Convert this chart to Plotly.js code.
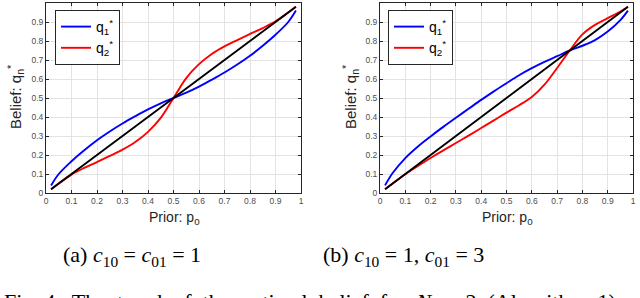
<!DOCTYPE html>
<html><head><meta charset="utf-8">
<script src="https://cdn.plot.ly/plotly-3.0.1.min.js"></script>
<style>body{margin:0;background:#fff}#c{width:640px;height:298px}</style>
</head><body><div id="c"></div>
<script>
// Shared prior grid
const prior = [0.02,0.05,0.1,0.15,0.2,0.25,0.3,0.35,0.4,0.45,0.5,0.55,0.6,0.65,0.7,0.75,0.8,0.85,0.9,0.95,0.98];
// (a) c10 = c01 = 1
const aQ1 = [0.04,0.1,0.167,0.225,0.278,0.324,0.366,0.404,0.44,0.472,0.5,0.528,0.56,0.596,0.634,0.676,0.722,0.775,0.833,0.9,0.96];
const aQ2 = [0.02,0.05,0.097,0.132,0.163,0.195,0.228,0.268,0.322,0.395,0.5,0.605,0.678,0.732,0.772,0.805,0.837,0.868,0.903,0.95,0.98];
// (b) c10 = 1, c01 = 3
const bQ1 = [0.04,0.105,0.184,0.245,0.298,0.348,0.396,0.443,0.49,0.535,0.578,0.62,0.657,0.69,0.72,0.75,0.775,0.805,0.85,0.91,0.96];
const bQ2 = [0.02,0.05,0.099,0.142,0.184,0.224,0.263,0.302,0.342,0.382,0.423,0.462,0.505,0.57,0.658,0.75,0.835,0.885,0.92,0.955,0.98];
const diag = prior.slice();
const ticks = [0,0.1,0.2,0.3,0.4,0.5,0.6,0.7,0.8,0.9,1];
const tickText = ['0','0.1','0.2','0.3','0.4','0.5','0.6','0.7','0.8','0.9','1'];

const ln = (x,y,c,name,xa,ya,lg,show)=>({x:x,y:y,type:'scatter',mode:'lines',line:{color:c,width:1.9,shape:'spline',smoothing:1},
  name:name,xaxis:xa,yaxis:ya,legend:lg,showlegend:show,hoverinfo:'skip'});
const n1='q<sub>1</sub><sup>*</sup>', n2='q<sub>2</sub><sup>*</sup>';
const traces = [
  ln(prior,aQ1,'#0000ff',n1,'x','y','legend',true),
  ln(prior,aQ2,'#ff0000',n2,'x','y','legend',true),
  ln(prior,diag,'#000000','diag','x','y','legend',false),
  ln(prior,bQ1,'#0000ff',n1,'x2','y2','legend2',true),
  ln(prior,bQ2,'#ff0000',n2,'x2','y2','legend2',true),
  ln(prior,diag,'#000000','diag','x2','y2','legend2',false)
];
const ax = (dom, anchor)=>({domain:dom, anchor:anchor, range:[0,1], tickvals:ticks, ticktext:tickText,
  ticks:'inside', ticklen:3, tickcolor:'#262626', showline:true, linecolor:'#262626', linewidth:1, mirror:'ticks',
  showgrid:true, gridcolor:'#e3e3e3', gridwidth:1, zeroline:false, fixedrange:true,
  tickfont:{family:'Liberation Sans, Arial', size:8.5, color:'#4d4d4d'}});
const yd=[1-193/298, 1-3/298];
const legendBase = {bgcolor:'#ffffff', bordercolor:'#262626', borderwidth:1, xref:'paper', yref:'paper',
  xanchor:'left', yanchor:'top', font:{family:'Liberation Sans, Arial', size:14, color:'#000'}, tracegroupgap:0, itemwidth:30};
const serif = {family:'Liberation Serif, Times New Roman, serif', size:22, color:'#000'};
const sansX = {family:'Liberation Sans, Arial', size:14, color:'#262626'};
const sansY = {family:'Liberation Sans, Arial', size:15, color:'#262626'};
const gap = '\u2002';
const figText = ['Fig. 4.','The','trend','of','the','optimal','belief','for','<i>N</i>','=','2','(Algorithm','1)'].join(gap);
const layout = {
  width:640, height:298, margin:{l:0,r:0,t:0,b:0}, paper_bgcolor:'#fff', plot_bgcolor:'#fff',
  xaxis: ax([46/640, 301/640],'y'), yaxis: ax(yd,'x'),
  xaxis2: ax([380/640, 633/640],'y2'), yaxis2: ax(yd,'x2'),
  legend: Object.assign({x:55/640, y:1-10/298}, legendBase),
  legend2: Object.assign({x:388/640, y:1-10/298}, legendBase),
  annotations:[
    {text:'Prior: p<sub>0</sub>', x:174/640, y:1-218/298, xref:'paper', yref:'paper', showarrow:false, font:sansX, xanchor:'center', yanchor:'middle'},
    {text:'Prior: p<sub>0</sub>', x:507/640, y:1-218/298, xref:'paper', yref:'paper', showarrow:false, font:sansX, xanchor:'center', yanchor:'middle'},
    {text:'Belief: q<sub>n</sub><sup>*</sup>', x:15/640, y:1-97/298, xref:'paper', yref:'paper', showarrow:false, font:sansY, textangle:-90, xanchor:'center', yanchor:'middle'},
    {text:'Belief: q<sub>n</sub><sup>*</sup>', x:350/640, y:1-97/298, xref:'paper', yref:'paper', showarrow:false, font:sansY, textangle:-90, xanchor:'center', yanchor:'middle'},
    {text:'(a) <i>c</i><sub>10</sub> = <i>c</i><sub>01</sub> = 1', x:132/640, y:1-256/298, xref:'paper', yref:'paper', showarrow:false, font:serif, xanchor:'center', yanchor:'middle'},
    {text:'(b) <i>c</i><sub>10</sub> = 1, <i>c</i><sub>01</sub> = 3', x:403/640, y:1-256/298, xref:'paper', yref:'paper', showarrow:false, font:serif, xanchor:'center', yanchor:'middle'},
    {text:figText, x:2/640, y:1-316/298, xref:'paper', yref:'paper', showarrow:false, font:serif, xanchor:'left', yanchor:'bottom'}
  ]
};
Plotly.newPlot('c', traces, layout, {displayModeBar:false, staticPlot:true});
</script></body></html>
